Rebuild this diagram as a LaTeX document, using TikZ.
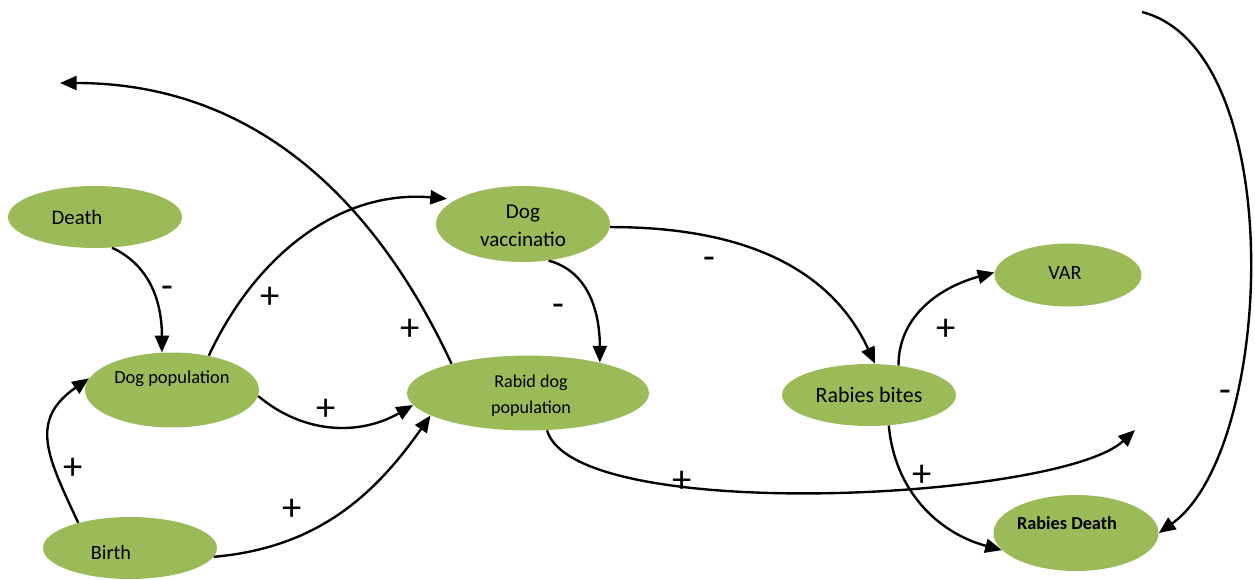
\documentclass[tikz,border=0pt]{standalone}
\usepackage{fontspec}
\setmainfont{Carlito}
\usetikzlibrary{shapes.geometric,arrows.meta}
\definecolor{leaf}{RGB}{155,187,89}

\tikzset{
    blob/.style={ellipse, fill=leaf, inner sep=0pt},
    link/.style={line width=1.35pt, -{Triangle[length=9.5pt,width=8pt]}},
    sgn/.style={font=\fontsize{22}{22}\selectfont, inner sep=0pt},
    every label/.style={align=center, inner sep=0pt}
}

\begin{document}
\begin{tikzpicture}[x=0.02cm, y=-0.02cm]
    \useasboundingbox (0,0) rectangle (1255,579);
    % variables
    \node[blob, minimum width=3.48cm, minimum height=1.24cm,
        label={[xshift=-0.36cm, font=\fontsize{11.8}{14}\selectfont]center:Death}] (death) at (95,217) {};
    \node[blob, minimum width=3.48cm, minimum height=1.5cm,
        label={[yshift=0.22cm, font=\fontsize{10.5}{13}\selectfont]center:Dog population}] (dogpop) at (172,390) {};
    \node[blob, minimum width=3.48cm, minimum height=1.24cm,
        label={[xshift=-0.38cm, yshift=-0.1cm, font=\fontsize{11.5}{14}\selectfont]center:Birth}] (birth) at (130,548) {};
    \node[blob, minimum width=3.48cm, minimum height=1.52cm,
        label={[yshift=-0.04cm, font=\fontsize{12}{16}\selectfont]center:Dog\\vaccinatio}] (vacc) at (523,224) {};
    \node[blob, minimum width=4.84cm, minimum height=1.5cm,
        label={[xshift=0.06cm, yshift=-0.06cm, font=\fontsize{10.3}{14.8}\selectfont]center:Rabid dog\\population}] (rabid) at (528,393) {};
    \node[blob, minimum width=3.48cm, minimum height=1.24cm,
        label={[font=\fontsize{12.5}{15}\selectfont]center:Rabies bites}] (bites) at (869,395) {};
    \node[blob, minimum width=2.94cm, minimum height=1.26cm,
        label={[xshift=-0.06cm, yshift=0.04cm, font=\fontsize{11.5}{14}\selectfont]center:VAR}] (var) at (1068,275) {};
    \node[blob, minimum width=3.3cm, minimum height=1.52cm,
        label={[xshift=-0.18cm, yshift=0.2cm, font=\bfseries\fontsize{10.4}{13}\selectfont]center:Rabies Death}] (rdeath) at (1076,533) {};

    % loose ends
    \coordinate (topleft) at (60,83);
    \coordinate (rightend) at (1135,430);
    \coordinate (topright) at (1142,12);

    % links
    \draw[link] (death.-61) to[out=-25, in=90] (dogpop.105);
    \draw[link] (birth.154) to[out=115, in=-145, looseness=1.3] (dogpop.172);
    \draw[link, shorten >=5pt] (dogpop.43) to[out=65, in=175] (vacc.160);
    \draw[link] (dogpop.-4) to[out=-40, in=210] (rabid.186);
    \draw[link] (birth.-6) to[out=5, in=235] (rabid.193);
    \draw[link] (rabid.159) to[out=115, in=0] (topleft);
    \draw[link] (vacc.-55) to[out=-15, in=90] (rabid.23);
    \draw[link] (vacc.-2) to[out=0, in=115] (bites.79);
    \draw[link] (bites.45) to[out=90, in=195] (var.178);
    \draw[link] (bites.-57) to[out=-85, in=165] (rdeath.193);
    \draw[link] (rabid.-63) .. controls (575,525) and (1060,500) .. (rightend);
    \draw[link] (topright) .. controls (1290,50) and (1275,450) .. (rdeath.0);

    % polarities
    \node[sgn] (s1) at (167,292) {-};
    \node[sgn] (s2) at (73,469) {+};
    \node[sgn] (s3) at (270,298) {+};
    \node[sgn] (s4) at (326,410) {+};
    \node[sgn] (s5) at (292,510) {+};
    \node[sgn] (s6) at (410,330) {+};
    \node[sgn] (s7) at (558,310) {-};
    \node[sgn] (s8) at (709,263) {-};
    \node[sgn] (s9) at (946,330) {+};
    \node[sgn] (s10) at (922,476) {+};
    \node[sgn] (s11) at (682,482) {+};
    \node[sgn] (s12) at (1225,396) {-};
\end{tikzpicture}
\end{document}
